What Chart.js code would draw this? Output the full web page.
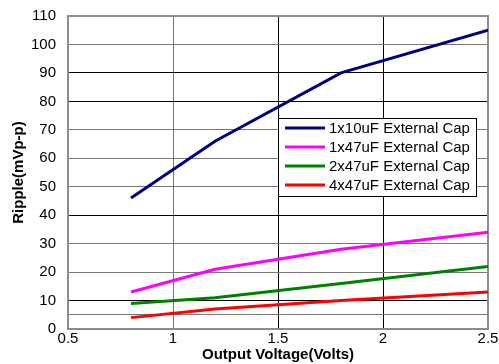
<!DOCTYPE html>
<html><head><meta charset="utf-8">
<script src="https://cdn.jsdelivr.net/npm/chart.js@4.4.0/dist/chart.umd.min.js"></script>
<style>html,body{margin:0;padding:0;background:#fff}#wrap{width:499px;height:364px;position:relative}</style>
</head><body><div id="wrap"><canvas id="c" width="499" height="364"></canvas></div>
<script>
const xValues = [0.8, 1.2, 1.8, 2.5];
const seriesLabels = ['1x10uF External Cap','1x47uF External Cap','2x47uF External Cap','4x47uF External Cap'];
const s1x10 = [46, 66, 90, 105];
const s1x47 = [13, 21, 28, 34];
const s2x47 = [9, 11, 16, 22];
const s4x47 = [4, 7, 10, 13];
const seriesColors = ['#000080','#FF00FF','#008000','#FF0000'];
const xTicks = [0.5, 1, 1.5, 2, 2.5];
const yTicks = [0, 5, 10, 20, 30, 40, 50, 60, 70, 80, 90, 100, 110];

const allSeries = [s1x10, s1x47, s2x47, s4x47];
const datasets = allSeries.map((s, i) => ({
  label: seriesLabels[i],
  data: s.map((v, j) => ({x: xValues[j], y: v})),
  borderColor: seriesColors[i],
  backgroundColor: seriesColors[i],
  borderWidth: 3,
  pointRadius: 0,
  tension: 0,
  fill: false
}));

const FONT = 'Liberation Sans, Arial, sans-serif';

const frame = {
  id: 'frame',
  beforeDatasetsDraw(chart) {
    const {ctx, chartArea: a} = chart;
    ctx.save();
    ctx.strokeStyle = '#8c8c8c';
    ctx.lineWidth = 2;
    ctx.strokeRect(a.left, a.top, a.right - a.left, a.bottom - a.top);
    ctx.restore();
  },
  afterDatasetsDraw(chart) {
    const {ctx} = chart;
    const bx = 278, by = 118, bw = 198, bh = 78;
    ctx.save();
    ctx.fillStyle = '#fff';
    ctx.fillRect(bx, by, bw, bh);
    ctx.strokeStyle = '#000';
    ctx.lineWidth = 1;
    ctx.strokeRect(bx + 0.5, by + 0.5, bw, bh);
    ctx.font = '15px ' + FONT;
    ctx.textBaseline = 'middle';
    ctx.textAlign = 'left';
    chart.data.datasets.forEach((d, i) => {
      const y = by + 10 + i * 19;
      ctx.strokeStyle = d.borderColor;
      ctx.lineWidth = 3;
      ctx.beginPath();
      ctx.moveTo(285, y);
      ctx.lineTo(325, y);
      ctx.stroke();
      ctx.fillStyle = '#000';
      ctx.fillText(d.label, 329, y + 1);
    });
    ctx.restore();
  }
};

new Chart(document.getElementById('c'), {
  type: 'line',
  data: { datasets },
  plugins: [frame],
  options: {
    responsive: false,
    animation: false,
    layout: { padding: { left: 0, right: 11, top: 16, bottom: 0 } },
    plugins: { legend: { display: false }, tooltip: { enabled: false } },
    scales: {
      x: {
        type: 'linear', min: 0.5, max: 2.5,
        afterBuildTicks(scale) { scale.ticks = xTicks.map(v => ({value: v})); },
        afterFit(scale) { scale.height = 35; scale.paddingLeft = 0; scale.paddingRight = 0; },
        ticks: { color: '#000', font: { family: FONT, size: 15 }, padding: 1, maxRotation: 0,
          callback: v => String(v) },
        grid: { drawTicks: false, color: ctx => (ctx.tick && (ctx.tick.value === 1.5 || ctx.tick.value === 2)) ? '#000' : '#777', lineWidth: 1 },
        border: { color: '#8c8c8c', width: 2 },
        title: { display: true, text: 'Output Voltage(Volts)', color: '#000', font: { family: FONT, size: 15, weight: 'bold' }, padding: { top: 0, bottom: 0 } }
      },
      y: {
        type: 'linear', min: 0, max: 110,
        afterBuildTicks(scale) { scale.ticks = yTicks.map(v => ({value: v})); },
        afterFit(scale) { scale.width = 68; scale.paddingTop = 0; scale.paddingBottom = 0; },
        ticks: { color: '#000', font: { family: FONT, size: 15 }, padding: 12,
          callback: v => v === 5 ? '' : String(v) },
        grid: { drawTicks: false, color: ctx => (ctx.tick && [10, 40, 80, 90].includes(ctx.tick.value)) ? '#000' : '#777', lineWidth: 1 },
        border: { color: '#666', width: 2 },
        title: { display: true, text: 'Ripple(mVp-p)', color: '#000', font: { family: FONT, size: 15, weight: 'bold' }, padding: { top: 10, bottom: 0 } }
      }
    }
  }
});
</script></body></html>
